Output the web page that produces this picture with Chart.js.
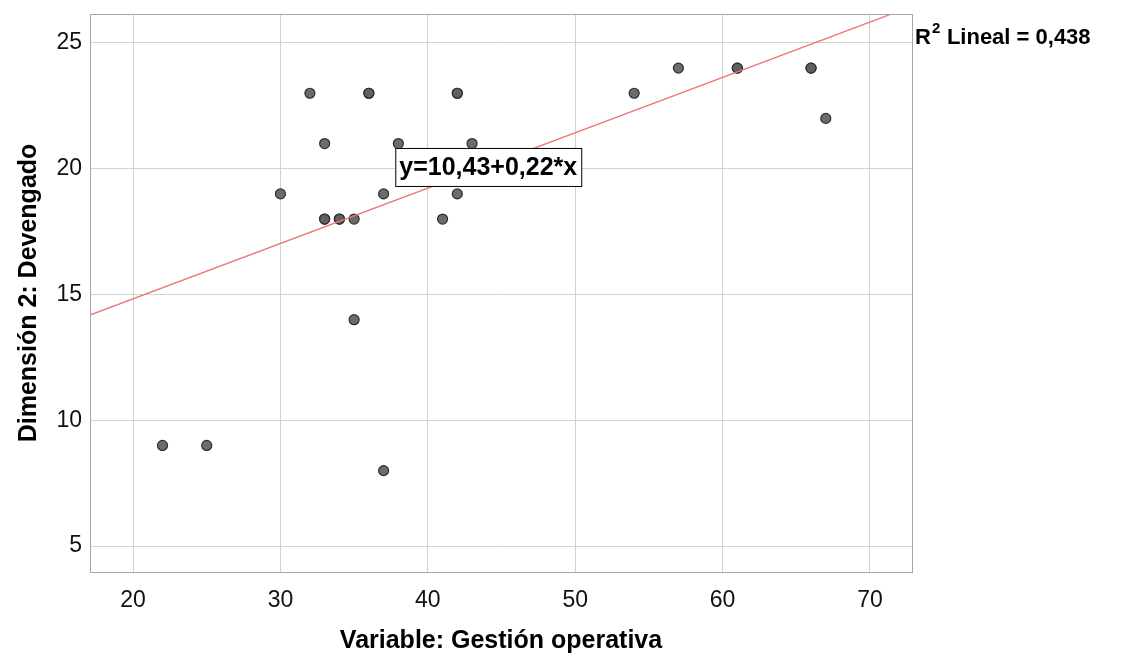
<!DOCTYPE html>
<html>
<head>
<meta charset="utf-8">
<script src="https://cdn.jsdelivr.net/npm/chart.js@4"></script>
<style>
  body { margin: 0; background: #fff; }
  #wrap { width: 1123px; height: 656px; }
</style>
</head>
<body>
<div id="wrap"><canvas id="scatter"></canvas></div>
<script>
// valores (algunos repetidos se solapan)
const gestion = [22, 25, 30, 32, 33, 33, 33, 34, 34, 35, 35, 36, 36, 37, 37, 38, 41, 42, 42, 42, 43, 54, 57, 61, 61, 66, 66, 67];
const devengado = [9, 9, 19, 23, 21, 18, 18, 18, 18, 18, 14, 23, 23, 19, 8, 21, 18, 23, 23, 19, 21, 23, 24, 24, 24, 24, 24, 22];

// recta de ajuste (extremos)
const fitX = [17, 72];
const fitY = [14.17, 26.27];

const xTitle = "Variable: Gestión operativa";
const yTitle = "Dimensión 2: Devengado";
const fitLabel = "y=10,43+0,22*x";
const r2Label = "Lineal = 0,438";

const FONT = "'Liberation Sans', Arial, sans-serif";

const points = gestion.map((g, i) => ({ x: g, y: devengado[i] }));
const fitLine = fitX.map((x, i) => ({ x: x, y: fitY[i] }));

const annotations = {
  id: "annotations",
  afterDatasetsDraw(chart) {
    const { ctx, chartArea, scales } = chart;
    ctx.save();
    // marco del area
    ctx.strokeStyle = "#a6a6a6";
    ctx.lineWidth = 1;
    ctx.strokeRect(chartArea.left + 0.5, chartArea.top + 0.5, chartArea.right - chartArea.left, chartArea.bottom - chartArea.top);

    // etiqueta de la ecuacion
    ctx.font = "bold 25px " + FONT;
    ctx.textBaseline = "middle";
    ctx.textAlign = "center";
    const cx = scales.x.getPixelForValue(44.1);
    const cy = scales.y.getPixelForValue(20.07);
    const w = ctx.measureText(fitLabel).width + 8;
    const h = 38;
    ctx.fillStyle = "#fff";
    ctx.fillRect(cx - w / 2, cy - h / 2, w, h);
    ctx.strokeStyle = "#000";
    ctx.strokeRect(cx - w / 2 + 0.5, cy - h / 2 + 0.5, w, h);
    ctx.fillStyle = "#000";
    ctx.fillText(fitLabel, cx, cy + 1);

    // R2
    ctx.textAlign = "left";
    const rx = chartArea.right + 3;
    const ry = 38;
    ctx.font = "bold 22px " + FONT;
    ctx.fillText("R", rx, ry);
    const rw = ctx.measureText("R").width;
    ctx.font = "bold 15px " + FONT;
    ctx.fillText("2", rx + rw + 1, ry - 9);
    ctx.font = "bold 22px " + FONT;
    ctx.fillText(r2Label, rx + rw + 16, ry);
    ctx.restore();
  }
};

new Chart(document.getElementById("scatter"), {
  type: "scatter",
  data: {
    datasets: [
      {
        type: "line",
        data: fitLine,
        borderColor: "#f07272",
        borderWidth: 1.3,
        pointRadius: 0,
        fill: false,
        order: 0
      },
      {
        data: points,
        backgroundColor: "rgba(95,95,95,0.92)",
        borderColor: "#2e2e2e",
        borderWidth: 1.2,
        pointRadius: 5,
        order: 1
      }
    ]
  },
  options: {
    responsive: true,
    maintainAspectRatio: false,
    animation: false,
    layout: { padding: { top: 14, right: 211, left: 0, bottom: 0 } },
    plugins: { legend: { display: false }, tooltip: { enabled: false } },
    scales: {
      x: {
        type: "linear",
        min: 17.08,
        max: 72.85,
        grid: { color: "#d2d2d2", drawTicks: false },
        border: { color: "#a6a6a6" },
        ticks: {
          stepSize: 10,
          includeBounds: false,
          padding: 15,
          color: "#111",
          font: { family: FONT, size: 23 }
        },
        title: {
          display: true,
          text: xTitle,
          color: "#000",
          font: { family: FONT, size: 25, weight: "bold" },
          padding: { top: 13, bottom: 0 }
        },
        afterFit(scale) {
          scale.height = 84;
          scale.paddingLeft = 0;
          scale.paddingRight = 0;
        }
      },
      y: {
        type: "linear",
        min: 3.97,
        max: 26.15,
        grid: { color: "#d2d2d2", drawTicks: false },
        border: { color: "#a6a6a6" },
        ticks: {
          stepSize: 5,
          includeBounds: false,
          padding: 8,
          color: "#111",
          font: { family: FONT, size: 23 }
        },
        title: {
          display: true,
          text: yTitle,
          color: "#000",
          font: { family: FONT, size: 25, weight: "bold" },
          padding: { top: 14, bottom: 4 }
        },
        afterFit(scale) {
          scale.width = 90;
          scale.paddingTop = 0;
          scale.paddingBottom = 0;
        }
      }
    }
  },
  plugins: [annotations]
});
</script>
</body>
</html>
